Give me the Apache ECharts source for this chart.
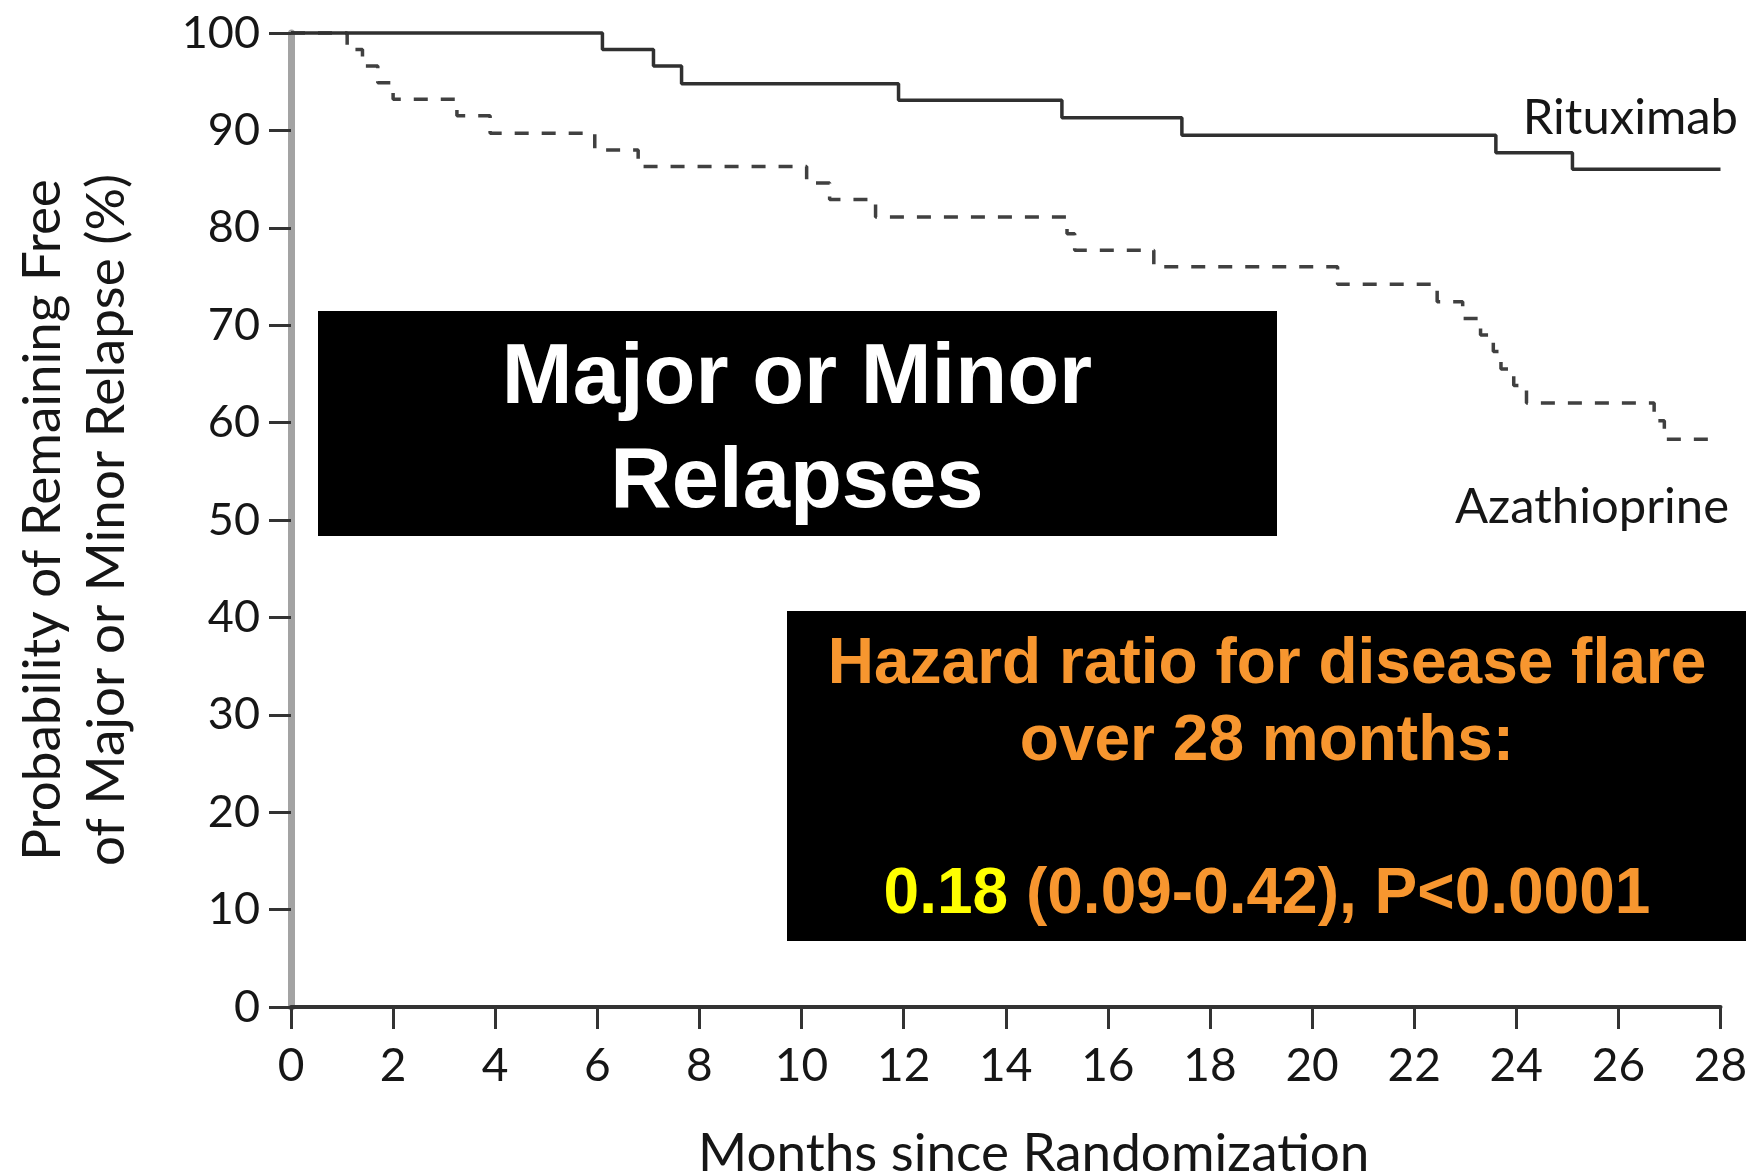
<!DOCTYPE html>
<html>
<head>
<meta charset="utf-8">
<script src="https://cdn.jsdelivr.net/npm/echarts@6/dist/echarts.min.js"></script>
<style>
  html, body { margin: 0; padding: 0; background: #ffffff; }
  #chart { width: 1752px; height: 1175px; }
</style>
</head>
<body>
<div id="chart"></div>
<script>
// Kaplan–Meier estimates: month of each step and the % still free of relapse after it
const rituximabMonths = [0, 6.1, 7.1, 7.65, 11.9, 15.1, 17.45, 23.6, 25.1, 28];
const rituximabFree   = [100, 98.3, 96.6, 94.8, 93.1, 91.3, 89.5, 87.7, 86.0, 86.0];

const azathioprineMonths = [0, 1.1, 1.4, 1.7, 2.0, 3.25, 3.9, 5.95, 6.8, 10.1, 10.55, 11.45,
  15.2, 15.35, 16.9, 20.5, 22.45, 22.95, 23.3, 23.55, 23.7, 23.95, 24.2, 26.7, 26.9, 28];
const azathioprineFree = [100, 98.3, 96.6, 94.9, 93.2, 91.5, 89.7, 88.0, 86.3, 84.6, 82.9, 81.1,
  79.4, 77.7, 76.0, 74.2, 72.4, 70.7, 69.0, 67.3, 65.5, 63.8, 62.0, 60.2, 58.3, 58.3];

// Axis ranges and ticks
const monthRange = [0, 28];
const monthStep = 2;
const percentRange = [0, 100];
const percentStep = 10;

// Texts
const seriesNames = ['Rituximab', 'Azathioprine'];
const xTitle = 'Months since Randomization';
const yTitle = ['Probability of Remaining Free', 'of Major or Minor Relapse (%)'];
const panelTitle = ['Major or Minor', 'Relapses'];
const hazardLines = ['Hazard ratio for disease flare', 'over 28 months:'];
const hazardEstimate = '0.18';
const hazardRest = '(0.09-0.42), P<0.0001';

const pair = (xs, ys) => xs.map((x, i) => [x, ys[i]]);

const ORANGE = '#f7962f';
const INK = '#161616';
const LABEL_FONT = 'Lato, "Open Sans", sans-serif';
const BOX_FONT = '"Liberation Sans", Arial, sans-serif';

const chart = echarts.init(document.getElementById('chart'), null, { renderer: 'canvas' });

chart.setOption({
  animation: false,
  backgroundColor: '#ffffff',
  grid: {
    left: 291, right: 31.5, top: 33, bottom: 168,
    containLabel: false,
    outerBoundsMode: 'none'
  },
  xAxis: {
    type: 'value',
    min: monthRange[0], max: monthRange[1], interval: monthStep,
    name: xTitle,
    nameLocation: 'middle',
    nameGap: 120,
    // left padding nudges the centred title to the right of the plot's middle
    nameTextStyle: { fontFamily: LABEL_FONT, fontSize: 53, color: INK, padding: [0, 0, 0, 56] },
    axisLine: { show: true, onZero: false, lineStyle: { color: '#333333', width: 4 } },
    axisTick: { show: true, length: 22, lineStyle: { color: '#333333', width: 3 } },
    axisLabel: { margin: 36, fontFamily: LABEL_FONT, fontSize: 46, color: INK },
    splitLine: { show: false }
  },
  yAxis: {
    type: 'value',
    min: percentRange[0], max: percentRange[1], interval: percentStep,
    axisLine: { show: true, onZero: false, lineStyle: { color: '#a3a3a3', width: 7 } },
    axisTick: { show: true, length: 22, lineStyle: { color: '#333333', width: 3 } },
    axisLabel: { margin: 31, fontFamily: LABEL_FONT, fontSize: 45, color: INK },
    splitLine: { show: false }
  },
  series: [
    {
      name: seriesNames[0],
      type: 'line',
      step: 'end',
      clip: false,
      showSymbol: false,
      symbol: 'none',
      data: pair(rituximabMonths, rituximabFree),
      lineStyle: { color: '#303030', width: 3.5 },
      z: 3
    },
    {
      name: seriesNames[1],
      type: 'line',
      step: 'end',
      clip: false,
      showSymbol: false,
      symbol: 'none',
      data: pair(azathioprineMonths, azathioprineFree),
      lineStyle: { color: '#404040', width: 3.5, type: [14, 13] },
      z: 2
    }
  ],
  graphic: [
    // y-axis title, two rotated lines
    {
      type: 'text', x: 43, y: 520, rotation: Math.PI / 2,
      style: { text: yTitle[0], fontFamily: LABEL_FONT, fontSize: 53, fill: INK, align: 'center', verticalAlign: 'middle' }
    },
    {
      type: 'text', x: 107, y: 520, rotation: Math.PI / 2,
      style: { text: yTitle[1], fontFamily: LABEL_FONT, fontSize: 53, fill: INK, align: 'center', verticalAlign: 'middle' }
    },
    // curve names
    {
      type: 'text', x: 1738, y: 118,
      style: { text: seriesNames[0], fontFamily: LABEL_FONT, fontSize: 49, fill: INK, align: 'right', verticalAlign: 'middle' }
    },
    {
      type: 'text', x: 1729, y: 507,
      style: { text: seriesNames[1], fontFamily: LABEL_FONT, fontSize: 49, fill: INK, align: 'right', verticalAlign: 'middle' }
    },
    // relapse-type panel
    {
      type: 'rect', shape: { x: 318, y: 311, width: 959, height: 225 },
      style: { fill: '#000000' }, z: 10
    },
    {
      type: 'text', x: 797, y: 380, z: 11,
      style: { text: panelTitle[0], fontFamily: BOX_FONT, fontWeight: 'bold', fontSize: 85, fill: '#ffffff', align: 'center', verticalAlign: 'middle' }
    },
    {
      type: 'text', x: 797, y: 484, z: 11,
      style: { text: panelTitle[1], fontFamily: BOX_FONT, fontWeight: 'bold', fontSize: 85, fill: '#ffffff', align: 'center', verticalAlign: 'middle' }
    },
    // hazard ratio panel
    {
      type: 'rect', shape: { x: 787, y: 611, width: 959, height: 330 },
      style: { fill: '#000000' }, z: 10
    },
    {
      type: 'text', x: 1267, y: 665, z: 11,
      style: { text: hazardLines[0], fontFamily: BOX_FONT, fontWeight: 'bold', fontSize: 64, fill: ORANGE, align: 'center', verticalAlign: 'middle' }
    },
    {
      type: 'text', x: 1267, y: 742, z: 11,
      style: { text: hazardLines[1], fontFamily: BOX_FONT, fontWeight: 'bold', fontSize: 64, fill: ORANGE, align: 'center', verticalAlign: 'middle' }
    },
    {
      type: 'text', x: 1267, y: 895, z: 11,
      style: {
        text: '{est|' + hazardEstimate + '} {rest|' + hazardRest + '}',
        align: 'center', verticalAlign: 'middle',
        fontFamily: BOX_FONT, fontWeight: 'bold', fontSize: 64, fill: ORANGE,
        rich: {
          est: { fontFamily: BOX_FONT, fontWeight: 'bold', fontSize: 64, fill: '#ffff00' },
          rest: { fontFamily: BOX_FONT, fontWeight: 'bold', fontSize: 64, fill: ORANGE }
        }
      }
    }
  ]
});
</script>
</body>
</html>
